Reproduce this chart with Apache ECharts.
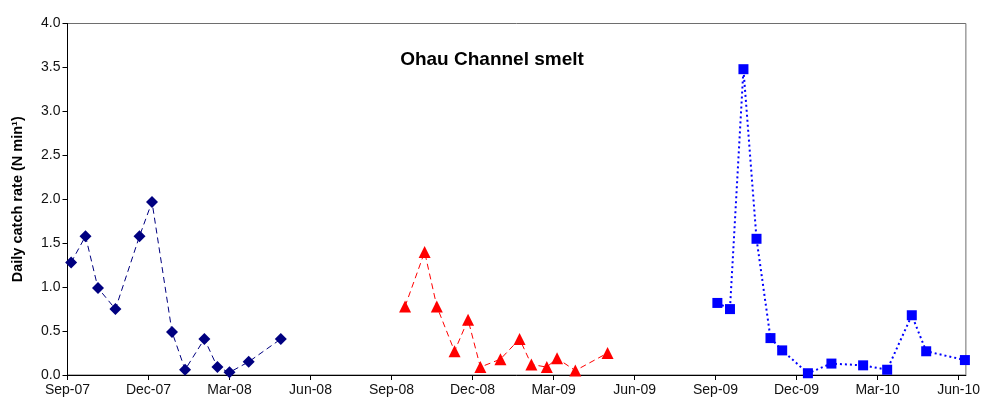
<!DOCTYPE html>
<html>
<head>
<meta charset="utf-8">
<script src="https://cdn.jsdelivr.net/npm/echarts@6/dist/echarts.min.js"></script>
<style>
  html, body { margin: 0; padding: 0; background: #fff; }
  #main { width: 983px; height: 405px; }
</style>
</head>
<body>
<div id="main"></div>
<script>
// sampling dates and daily catch rates, one set per season
const dates0708 = ['2007-09-05', '2007-09-21', '2007-10-05', '2007-10-25', '2007-11-21', '2007-12-05',
  '2007-12-28', '2008-01-12', '2008-02-03', '2008-02-17', '2008-03-01', '2008-03-23', '2008-04-28']
const rates0708 = [1.28, 1.58, 0.99, 0.75, 1.58, 1.97, 0.49, 0.06, 0.41, 0.09, 0.03, 0.15, 0.41]

const dates0809 = ['2008-09-16', '2008-10-08', '2008-10-22', '2008-11-11', '2008-11-26', '2008-12-10',
  '2009-01-02', '2009-01-24', '2009-02-06', '2009-02-22', '2009-03-05', '2009-03-26', '2009-05-01']
const rates0809 = [0.78, 1.40, 0.78, 0.27, 0.63, 0.09, 0.18, 0.41, 0.12, 0.09, 0.19, 0.05, 0.25]

const dates0910 = ['2009-09-03', '2009-09-17', '2009-10-02', '2009-10-17', '2009-11-02', '2009-11-15',
  '2009-12-14', '2010-01-10', '2010-02-14', '2010-03-12', '2010-04-09', '2010-04-25', '2010-06-08']
const rates0910 = [0.82, 0.75, 3.48, 1.55, 0.42, 0.28, 0.02, 0.13, 0.11, 0.06, 0.68, 0.27, 0.17]

const monthNames = ['Jan', 'Feb', 'Mar', 'Apr', 'May', 'Jun', 'Jul', 'Aug', 'Sep', 'Oct', 'Nov', 'Dec']
const startYear = 2007
const startMonth = 8 // September, 0-based

// date string -> months since Sep-07 (fractional)
function toMonths (s) {
  const p = s.split('-').map(Number)
  const days = new Date(p[0], p[1], 0).getDate()
  return (p[0] - startYear) * 12 + (p[1] - 1 - startMonth) + (p[2] - 1) / days
}
function pairs (ds, vs) {
  return ds.map((d, i) => [toMonths(d), vs[i]])
}
function monthLabel (v) {
  const k = Math.round(v) + startMonth
  const y = startYear + Math.floor(k / 12)
  return monthNames[k % 12] + '-' + String(y % 100).padStart(2, '0')
}

const chart = echarts.init(document.getElementById('main'))
const option = {
  animation: false,
  backgroundColor: '#fff',
  title: {
    text: 'Ohau Channel smelt',
    left: 487,
    top: 45,
    textAlign: 'center',
    textStyle: { fontFamily: 'Liberation Sans', fontWeight: 'bold', fontSize: 19, color: '#000' }
  },
  grid: {
    left: 67.5, right: 15, top: 23.5, bottom: 30,
    show: true, borderColor: '#6e6e6e', borderWidth: 1, backgroundColor: 'transparent'
  },
  xAxis: {
    type: 'value',
    min: 0,
    max: 33.27,
    interval: 3,
    splitLine: { show: false },
    axisLine: { lineStyle: { color: '#000', width: 1 } },
    axisTick: { inside: false, length: 5, lineStyle: { color: '#000' } },
    axisLabel: {
      margin: 8,
      fontFamily: 'Liberation Sans', fontSize: 14, color: '#111',
      showMaxLabel: false,
      formatter: monthLabel
    }
  },
  yAxis: {
    type: 'value',
    min: 0,
    max: 4,
    interval: 0.5,
    name: 'Daily catch rate (N min¹)',
    nameLocation: 'middle',
    nameGap: 42,
    nameTextStyle: { fontFamily: 'Liberation Sans', fontWeight: 'bold', fontSize: 14.5, color: '#000' },
    splitLine: { show: false },
    axisLine: { show: true, lineStyle: { color: '#000', width: 1 } },
    axisTick: { show: true, length: 5, lineStyle: { color: '#000' } },
    axisLabel: {
      margin: 7,
      fontFamily: 'Liberation Sans', fontSize: 14, color: '#111',
      formatter: v => v.toFixed(1)
    }
  },
  series: [
    {
      name: '2007-08',
      type: 'line',
      data: pairs(dates0708, rates0708),
      symbol: 'diamond',
      symbolSize: 12,
      itemStyle: { color: '#000080' },
      lineStyle: { color: '#000080', width: 1, type: [6, 4] }
    },
    {
      name: '2008-09',
      type: 'line',
      data: pairs(dates0809, rates0809),
      symbol: 'triangle',
      symbolSize: 12,
      itemStyle: { color: '#ff0000' },
      lineStyle: { color: '#ff0000', width: 1, type: [6, 4] }
    },
    {
      name: '2009-10',
      type: 'line',
      data: pairs(dates0910, rates0910),
      symbol: 'rect',
      symbolSize: 10,
      itemStyle: { color: '#0000ff' },
      lineStyle: { color: '#0000ff', width: 2, type: [2, 3] }
    }
  ]
}
chart.setOption(option)
</script>
</body>
</html>
